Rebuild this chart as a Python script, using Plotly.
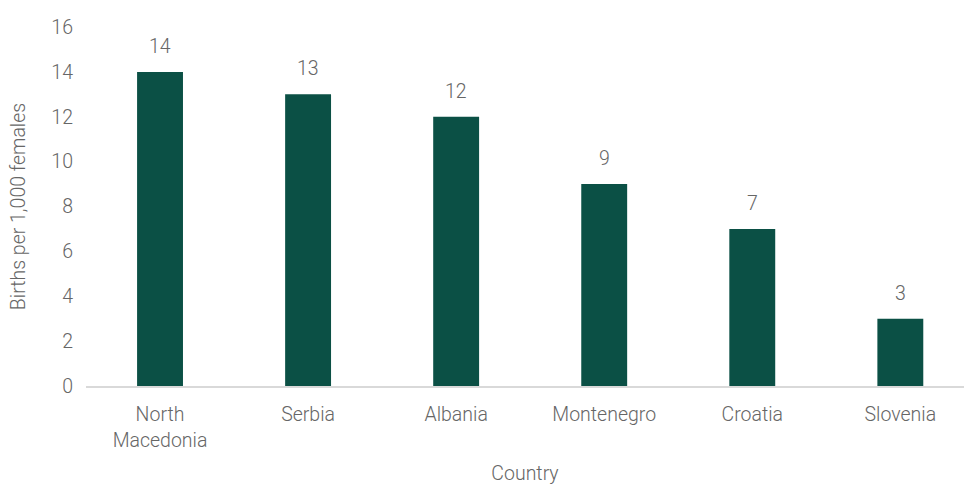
import plotly.graph_objects as go

countries = ["North<br>Macedonia", "Serbia", "Albania", "Montenegro", "Croatia", "Slovenia"]
births = [14, 13, 12, 9, 7, 3]
y_ticks = [0, 2, 4, 6, 8, 10, 12, 14, 16]

grey = "#666666"
font_family = "Roboto, Lato, sans-serif"
fsize = 19.5
light = 300

positions = list(range(len(countries)))

fig = go.Figure(
    go.Bar(
        x=positions,
        y=births,
        marker=dict(color="#0B5045", line=dict(width=0)),
        width=0.31,
    )
)

# value labels sitting above each bar
for xpos, val in zip(positions, births):
    fig.add_annotation(
        x=xpos, y=val, text=str(val), showarrow=False,
        yanchor="bottom", yshift=12,
        font=dict(size=fsize, color=grey, family=font_family, weight=light),
    )

fig.update_layout(
    width=964,
    height=485,
    margin=dict(l=86, r=0, t=27, b=99, autoexpand=False),
    paper_bgcolor="white",
    plot_bgcolor="white",
    showlegend=False,
    font=dict(family=font_family, size=fsize, color=grey, weight=light),
    xaxis=dict(
        tickmode="array",
        tickvals=positions,
        ticktext=countries,
        range=[-0.5, 5.43],
        automargin=False,
        showgrid=False,
        showline=True,
        linecolor="#d9d9d9",
        linewidth=2,
        ticks="",
        ticklabelstandoff=10,
        tickfont=dict(size=fsize, color=grey, weight=light),
        title=dict(text="Country", font=dict(size=fsize, color=grey, weight=light), standoff=24),
    ),
    yaxis=dict(
        range=[0, 16],
        tickvals=y_ticks,
        automargin=False,
        showgrid=False,
        zeroline=False,
        showline=False,
        ticks="",
        ticklabelstandoff=12,
        tickfont=dict(size=fsize, color=grey, weight=light),
        title=dict(text="Births per 1,000 females", font=dict(size=fsize, color=grey, weight=light), standoff=20),
    ),
)

fig.write_html("out.html")
